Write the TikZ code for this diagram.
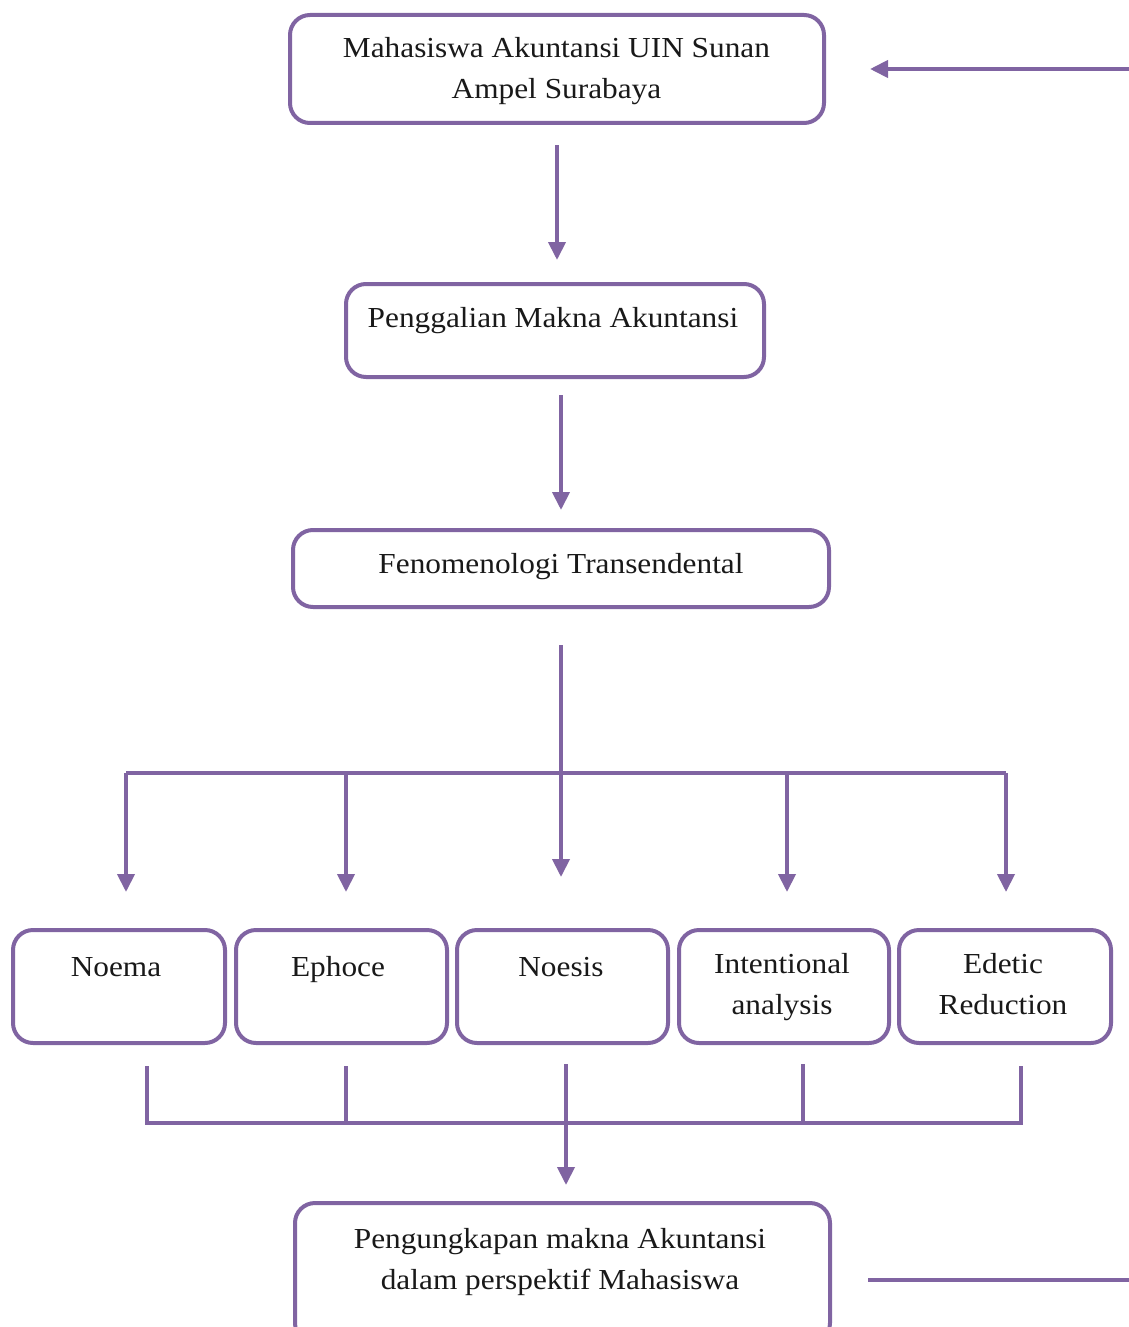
\documentclass[tikz,border=0pt]{standalone}
\usepackage{fontspec}
\setmainfont{Liberation Serif}[FakeStretch=1.08]
\usetikzlibrary{arrows.meta}
\definecolor{pur}{HTML}{8064A2}
\tikzset{
  box/.style={draw=pur, line width=4pt, rounded corners=20pt, fill=white, inner sep=0pt},
  txt/.style={align=center, inner sep=0pt, font=\fontsize{29}{41}\selectfont, text=black!90},
  txtone/.style={txt, text height=20pt, text depth=7pt},
  conn/.style={draw=pur, line width=4pt},
  arr/.style={conn, -{Triangle[length=18pt,width=17pt]}},
}
\begin{document}
\begin{tikzpicture}[x=1pt,y=-1pt]
\useasboundingbox (0,0) rectangle (1129,1327);
\clip (0,0) rectangle (1129,1327);
% boxes
\node[box, minimum width=534pt, minimum height=108pt] (b1) at (557,69) {};
\node[box, minimum width=418pt, minimum height=93pt] (b2) at (555,330.5) {};
\node[box, minimum width=536pt, minimum height=77pt] (b3) at (561,568.5) {};
\node[box, minimum width=212pt, minimum height=113pt] (n1) at (119,986.5) {};
\node[box, minimum width=211pt, minimum height=113pt] (n2) at (341.5,986.5) {};
\node[box, minimum width=211pt, minimum height=113pt] (n3) at (562.5,986.5) {};
\node[box, minimum width=210pt, minimum height=113pt] (n4) at (784,986.5) {};
\node[box, minimum width=212pt, minimum height=113pt] (n5) at (1005,986.5) {};
\node[box, minimum width=535pt, minimum height=140pt] (b6) at (562.5,1273) {};
% texts
\node[txt] (t1) at (556.5,71.5) {Mahasiswa Akuntansi UIN Sunan\\Ampel Surabaya};
\node[txtone] (t2) at (553,321) {Penggalian Makna Akuntansi};
\node[txtone] (t3) at (561,567) {Fenomenologi Transendental};
\node[txtone] (tn1) at (116,970) {Noema};
\node[txtone] (tn2) at (338,970) {Ephoce};
\node[txtone] (tn3) at (561,970) {Noesis};
\node[txt] (tn4) at (782,987.5) {Intentional\\analysis};
\node[txt] (tn5) at (1003,984.5) {Edetic\\Reduction};
\node[txt] (t6) at (560,1262.5) {Pengungkapan makna Akuntansi\\dalam perspektif Mahasiswa};
% coordinates
\coordinate (rt) at (1129,69);
\coordinate (rb) at (1129,1280);
\coordinate (j) at (561,773);
\coordinate (h1) at (126,773);
\coordinate (h2) at (346,773);
\coordinate (h4) at (787,773);
\coordinate (h5) at (1006,773);
\coordinate (d1) at (126,892);
\coordinate (d2) at (346,892);
\coordinate (d3) at (561,877);
\coordinate (d4) at (787,892);
\coordinate (d5) at (1006,892);
\coordinate (u1) at (147,1066);
\coordinate (u2) at (346,1066);
\coordinate (u3) at (566,1064);
\coordinate (u4) at (803,1064);
\coordinate (u5) at (1021,1066);
\coordinate (k1) at (147,1123);
\coordinate (k2) at (346,1123);
\coordinate (k3) at (566,1123);
\coordinate (k4) at (803,1123);
\coordinate (k5) at (1021,1123);
\coordinate (e6) at (566,1185);
% connectors
\draw[arr, shorten <=20pt, shorten >=22pt] (b1.south) -- (b1.south |- b2.north);
\draw[arr, shorten <=16pt, shorten >=18pt] (j |- b2.south) -- (j |- b3.north);
\draw[arr, shorten <=36pt] (j |- b3.south) -- (j) -- (d3);
\draw[conn] (h1) -- (h5);
\draw[arr] (h1) -- (d1);
\draw[arr] (h2) -- (d2);
\draw[arr] (h4) -- (d4);
\draw[arr] (h5) -- (d5);
\draw[conn] (u1) -- (k1) -- (k5) -- (u5);
\draw[conn] (u2) -- (k2);
\draw[conn] (u4) -- (k4);
\draw[arr] (u3) -- (e6);
\draw[arr, shorten >=44pt] (rt) -- (b1.east);
\draw[conn, shorten >=36pt] (rb) -- (b6.east |- rb);
\end{tikzpicture}
\end{document}
